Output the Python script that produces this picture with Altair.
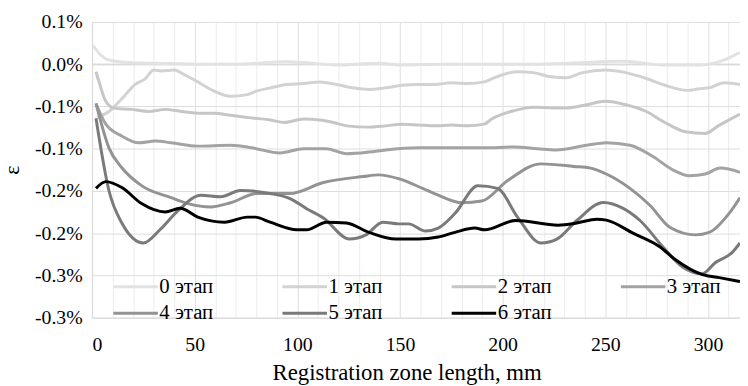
import altair as alt
import pandas as pd

stages = ["0 этап", "1 этап", "2 этап", "3 этап", "4 этап", "5 этап", "6 этап"]
colors = ["#e2e2e2", "#d2d2d2", "#c6c6c6", "#a3a3a3", "#939393", "#7a7a7a", "#000000"]

s0_x = [0.5, 3.4, 8.2, 17.8, 30, 51.5, 70, 95, 103, 119, 140, 151, 170, 191, 215, 235, 259, 278, 296, 308, 315.6]
s0_y = [0.022, 0.013, 0.005, 0.002, 0.001, 0.000, 0.000, 0.003, 0.002, -0.001, 0.001, -0.001, 0.000, 0.000,
        0.000, 0.0015, 0.0035, -0.001, -0.001, 0.005, 0.014]

s1_x = [2.5, 8.2, 14.5, 21, 26, 30, 34, 40, 45, 51.5, 59.5, 67.5, 75.6, 80, 87, 95, 103, 111, 119, 127, 135,
        143, 151, 159, 167, 175, 183, 191, 195, 202, 207, 215, 223.5, 231, 239, 250, 260, 270, 279, 290, 296,
        300.6, 308, 315.6]
s1_y = [-0.063, -0.056, -0.041, -0.024, -0.017, -0.007, -0.008, -0.007, -0.0125, -0.021, -0.032, -0.038,
        -0.036, -0.032, -0.028, -0.024, -0.023, -0.021, -0.024, -0.028, -0.030, -0.028, -0.025, -0.024,
        -0.024, -0.022, -0.023, -0.021, -0.017, -0.011, -0.009, -0.010, -0.015, -0.016, -0.010, -0.007,
        -0.010, -0.017, -0.025, -0.031, -0.029, -0.028, -0.022, -0.024]

s2_x = [1.9, 3.4, 6.7, 10.6, 19, 27.5, 35.6, 43.5, 51.5, 59.7, 67.5, 75.6, 79, 87, 93.5, 103, 111, 117.5, 124,
        135, 143, 151, 159, 167, 175, 183, 191, 194.6, 205.7, 215, 229.8, 241, 250, 260, 270, 279, 289, 298.7,
        305, 315.6]
s2_y = [-0.009, -0.021, -0.044, -0.052, -0.0535, -0.056, -0.0535, -0.056, -0.058, -0.058, -0.0605, -0.063,
        -0.064, -0.066, -0.069, -0.065, -0.066, -0.069, -0.073, -0.0745, -0.073, -0.071, -0.072, -0.073,
        -0.072, -0.073, -0.071, -0.065, -0.055, -0.051, -0.052, -0.048, -0.044, -0.048, -0.056, -0.069,
        -0.080, -0.082, -0.073, -0.059]

s3_x = [1.9, 6.7, 14.5, 22.6, 30.8, 38.5, 51.5, 67.5, 75.6, 80, 91.5, 103, 114, 124, 135, 143, 159, 175, 191,
        205.7, 217, 226, 241, 250.5, 262, 273, 282.8, 291, 298.7, 306, 315.6]
s3_y = [-0.0465, -0.071, -0.085, -0.093, -0.091, -0.093, -0.097, -0.096, -0.098, -0.100, -0.105, -0.100,
        -0.100, -0.106, -0.104, -0.1015, -0.099, -0.099, -0.099, -0.098, -0.100, -0.1015, -0.096, -0.093,
        -0.096, -0.109, -0.125, -0.132, -0.130, -0.123, -0.128]

s4_x = [1.9, 8.2, 14.5, 24.1, 38.5, 46.7, 57.8, 67.5, 80.5, 96.4, 112.7, 132, 139.7, 149.3, 161, 168.6, 180.2,
        189.8, 202.3, 218.7, 234.6, 242.8, 250.5, 262, 271.7, 281.4, 293.9, 300.6, 310.3, 315.6]
s4_y = [-0.0465, -0.099, -0.1226, -0.1437, -0.158, -0.165, -0.169, -0.164, -0.153, -0.153, -0.140, -0.133,
        -0.131, -0.1355, -0.147, -0.155, -0.164, -0.162, -0.138, -0.118, -0.121, -0.123, -0.130, -0.147,
        -0.167, -0.193, -0.202, -0.199, -0.1765, -0.158]

s5_x = [1.9, 8.2, 14.5, 25, 33, 42, 53, 62.6, 72.3, 86.7, 96.4, 104.5, 112.7, 125.3, 133.4, 141.6, 149.3,
        154.2, 162.4, 168.6, 176.8, 187.9, 197.5, 207.2, 218.7, 226.4, 236.1, 249.1, 258.7, 266.9, 278,
        287.6, 297.3, 303.5, 311.7, 315.6]
s5_y = [-0.064, -0.1495, -0.188, -0.2116, -0.196, -0.173, -0.155, -0.157, -0.1495, -0.153, -0.159, -0.171,
        -0.182, -0.207, -0.202, -0.187, -0.189, -0.189, -0.1975, -0.194, -0.1765, -0.144, -0.147, -0.181,
        -0.2116, -0.207, -0.185, -0.1636, -0.1706, -0.185, -0.216, -0.240, -0.248, -0.235, -0.223, -0.2116]

s6_x = [1.9, 6.7, 14.5, 24.1, 35.6, 42.9, 51.5, 64.5, 75.6, 79.5, 86.7, 99.7, 104.5, 114.2, 123.9, 134.9,
        147.9, 159, 168.6, 176.8, 186.4, 191.3, 206.3, 227, 236.1, 245.7, 250.5, 263.5, 276.5, 284.2, 297.3,
        305.5, 315.6]
s6_y = [-0.147, -0.139, -0.146, -0.165, -0.175, -0.1706, -0.181, -0.187, -0.181, -0.181, -0.187, -0.196,
        -0.196, -0.187, -0.188, -0.199, -0.207, -0.207, -0.2046, -0.199, -0.194, -0.196, -0.185, -0.1905,
        -0.188, -0.1835, -0.1846, -0.200, -0.216, -0.2315, -0.249, -0.2526, -0.2573]

x_grid = list(range(0, 320, 10))
y_ticks = [0.05, 0.0, -0.05, -0.1, -0.15, -0.2, -0.25, -0.3]
y_labels = ["0.1%", "0.0%", "-0.1%", "-0.1%", "-0.2%", "-0.2%", "-0.3%", "-0.3%"]

series = [(s0_x, s0_y), (s1_x, s1_y), (s2_x, s2_y), (s3_x, s3_y), (s4_x, s4_y), (s5_x, s5_y), (s6_x, s6_y)]
rows = []
for i, (xs, ys) in enumerate(series):
    for xv, yv in zip(xs, ys):
        rows.append({"stage": stages[i], "idx": i, "x": xv, "y": yv})
df = pd.DataFrame(rows)

label_arr = "[" + ",".join("'" + s + "'" for s in y_labels) + "]"
y_label_expr = label_arr + "[round((0.05 - datum.value) / 0.05)]"

FONT = "Liberation Serif, DejaVu Serif, serif"

xscale = alt.Scale(domain=[0, 315.6], nice=False, zero=False)
yscale = alt.Scale(domain=[-0.3, 0.05], nice=False, zero=False)

zero_line = alt.Chart(pd.DataFrame({"y": [0.0]})).mark_rule(color="#d0d0d0", strokeWidth=1).encode(
    y=alt.Y("y:Q", scale=yscale)
)

lines = alt.Chart(df).mark_line(strokeWidth=3, clip=True, interpolate="monotone").encode(
    x=alt.X("x:Q", scale=xscale,
            axis=alt.Axis(values=x_grid, labelExpr="datum.value % 50 == 0 ? datum.label : ''",
                          title="Registration zone length, mm", grid=True,
                          gridColor={"condition": {"test": "datum.value % 50 == 0", "value": "#dedede"},
                                     "value": "#ececec"},
                          ticks=False, tickSize=0, domain=True, domainColor="#d9d9d9",
                          labelPadding=33, labelBaseline="alphabetic", labelFontSize=20,
                          titleFontSize=23, titleX=318, titleY=62, titleBaseline="alphabetic")),
    y=alt.Y("y:Q", scale=yscale,
            axis=alt.Axis(values=y_ticks, labelExpr=y_label_expr, title="ε", grid=True, gridColor="#dedede",
                          ticks=False, tickSize=0, domain=True, domainColor="#d9d9d9",
                          labelPadding=10, labelFontSize=20, titleFontSize=22, titleX=-69,
                          titleAngle=270, titleBaseline="bottom")),
    color=alt.Color("stage:N", scale=alt.Scale(domain=stages, range=colors),
                    legend=alt.Legend(title=None, orient="none", legendX=20, legendY=256, columns=4,
                                      direction="horizontal", symbolType="M-1,0H3.5", symbolSize=400,
                                      symbolStrokeWidth=3, labelOffset=25, columnPadding=63, rowPadding=5,
                                      labelFontSize=21, labelFont=FONT, labelColor="#000000")),
    detail="idx:N",
    order="idx:Q",
)

chart = alt.layer(zero_line, lines).properties(
    width=655, height=299,
    autosize=alt.AutoSizeParams(type="none"),
    padding={"left": 85, "top": 12, "right": 0, "bottom": 67},
).configure(
    font=FONT
).configure_axis(
    labelFont=FONT, titleFont=FONT, labelColor="#000000", titleColor="#000000", titleFontWeight="normal"
).configure_legend(
    labelFont=FONT, labelFontSize=21, labelColor="#000000"
).configure_view(stroke=None)

chart.save("out.html", embed_options={"renderer": "svg", "actions": False})
